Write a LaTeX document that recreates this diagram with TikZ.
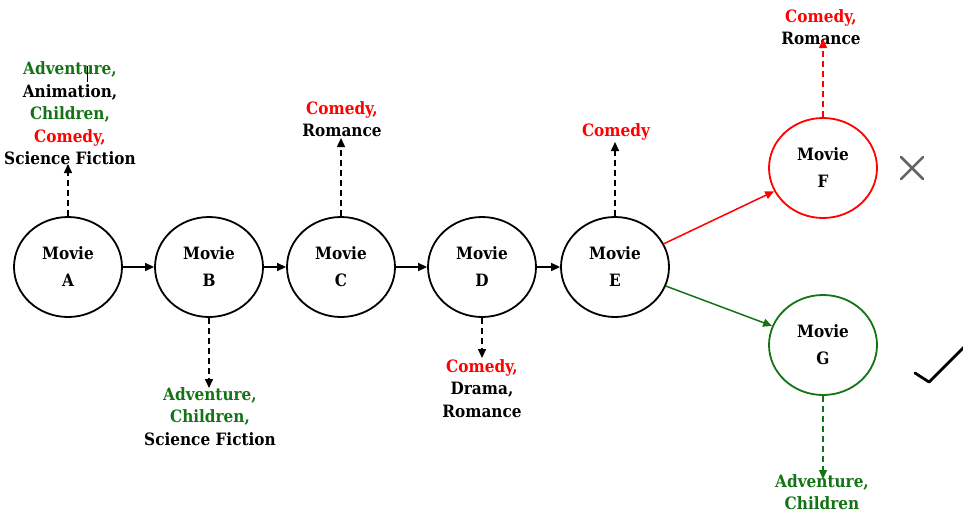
\documentclass[tikz,border=0pt]{standalone}
\usepackage{fontspec}
\setmainfont{DejaVu Serif Condensed}
\usetikzlibrary{shapes.geometric,arrows.meta,calc}
\definecolor{gr}{RGB}{20,115,20}
\definecolor{rd}{RGB}{255,0,0}
\definecolor{xg}{RGB}{100,100,100}
\begin{document}
\begin{tikzpicture}[x=1pt,y=-1pt,
  movie/.style={ellipse,draw,line width=1.8pt,minimum width=108pt,minimum height=100pt,inner sep=0pt,
    align=center,font=\bfseries\fontsize{17}{27}\selectfont},
  lab/.style={align=center,inner sep=2pt,font=\bfseries\fontsize{17}{22.5}\selectfont},
  seq/.style={line width=1.5pt,-{Triangle[length=9pt,width=8pt]}},
  dsh/.style={line width=1.5pt,dash pattern=on 6pt off 4pt,-{Triangle[length=9pt,width=8pt]}}]
\useasboundingbox (0,0) rectangle (963,515);
\node[movie] (A) at (68,267) {Movie\\A};
\node[movie] (B) at (209,267) {Movie\\B};
\node[movie] (C) at (341,267) {Movie\\C};
\node[movie] (D) at (482,267) {Movie\\D};
\node[movie] (E) at (615,267) {Movie\\E};
\node[movie,draw=rd] (F) at (823,168) {Movie\\F};
\node[movie,draw=gr] (G) at (823,345) {Movie\\G};
\draw[seq] (A) -- (B);
\draw[seq] (B) -- (C);
\draw[seq] (C) -- (D);
\draw[seq] (D) -- (E);
\draw[seq,rd] (E) -- (F);
\draw[seq,gr] (E) -- (G);
% labels
\node[lab,anchor=south] (la) at (70,167) {\textcolor{gr}{Adventure,}\\Animation,\\\textcolor{gr}{Children,}\\\textcolor{rd}{Comedy,}\\Science Fiction};
\node[lab,anchor=north] (lb) at (210,385) {\textcolor{gr}{Adventure,}\\\textcolor{gr}{Children,}\\Science Fiction};
\node[lab,anchor=south] (lc) at (342,139) {\textcolor{rd}{Comedy,}\\Romance};
\node[lab,anchor=north] (ld) at (482,357) {\textcolor{rd}{Comedy,}\\Drama,\\Romance};
\node[lab,anchor=south] (le) at (616,142) {\textcolor{rd}{Comedy}};
\node[lab,anchor=south] (lf) at (821,47) {\textcolor{rd}{Comedy,}\\Romance};
\node[lab,anchor=north,text=gr] (lg) at (822,472) {Adventure,\\Children};
\draw[dsh,shorten >=-3pt] (A.north) -- (A.north |- la.south);
\draw[dsh,shorten >=-3pt] (B.south) -- (B.south |- lb.north);
\draw[dsh,shorten >=-1pt] (C.north) -- (C.north |- lc.south);
\draw[dsh,shorten >=-1pt] (D.south) -- (D.south |- ld.north);
\draw[dsh] (E.north) -- (E.north |- le.south);
\draw[dsh,rd,shorten >=-8pt] (F.north) -- (F.north |- lf.south);
\draw[dsh,gr,shorten >=-7pt] (G.south) -- (G.south |- lg.north);
% cursor artifact
\draw[line width=1pt] (87,66) -- (87,82);
% marks
\coordinate (xc) at (912,168);
\draw[xg,line width=2.5pt,line cap=round] ($(xc)+(-11,-11)$) -- ($(xc)+(11,11)$) ($(xc)+(11,-11)$) -- ($(xc)+(-11,11)$);
\coordinate (ck) at (929,382);
\draw[black,line width=2.8pt,line cap=round,line join=round] (915,373) -- (ck) -- (965,346);
\end{tikzpicture}
\end{document}
